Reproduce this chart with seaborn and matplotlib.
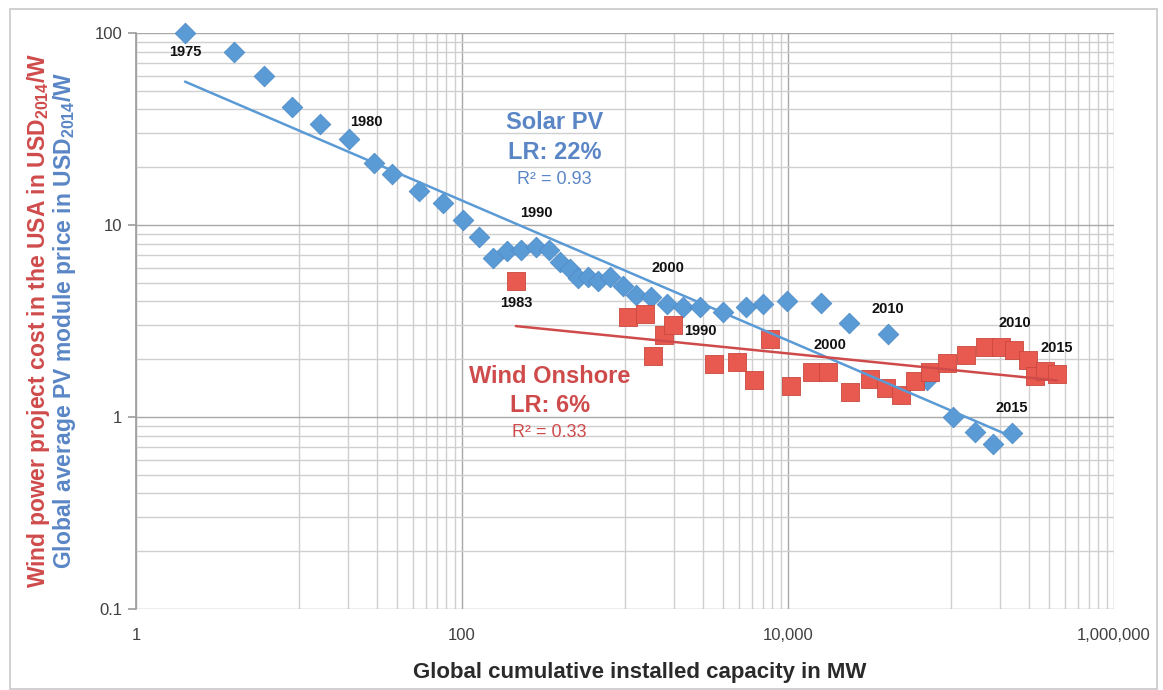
import numpy as np
import pandas as pd
import matplotlib
matplotlib.use('Agg')
import matplotlib.pyplot as plt
import matplotlib.ticker as mticker
from matplotlib.patches import Rectangle
import seaborn as sns

# solar PV: cumulative capacity (MW) and module price (USD2014/W), 1975-2015
solar_mw = [2.0, 3.99, 6.1, 9.06, 13.4, 20.3, 28.8, 37.2, 54.5, 76.4,
            101, 127, 155, 189, 230, 284, 342, 399, 460, 515,
            593, 683, 809, 972, 1167, 1444, 1811, 2270, 2884, 3994,
            5525, 7030, 9860, 15930, 23670, 41050, 71260, 102800, 140300, 181100,
            236700]
solar_price = [100, 79.6, 59.7, 41.2, 33.5, 28.1, 21.0, 18.4, 15.0, 13.0,
               10.6, 8.66, 6.73, 7.32, 7.41, 7.68, 7.41, 6.43, 5.90, 5.30,
               5.36, 5.11, 5.36, 4.81, 4.32, 4.22, 3.88, 3.74, 3.74, 3.52,
               3.74, 3.88, 4.02, 3.92, 3.09, 2.71, 1.56, 1.0, 0.836, 0.723,
               0.826]
solar_years = list(range(1975, 2016))

# onshore wind: cumulative capacity (MW) and US project cost (USD2014/W)
wind_mw = [214, 1043, 1327, 1486, 1735, 1969, 3516, 4866, 6185, 7762,
           10430, 14030, 17590, 23990, 31850, 39910, 49340, 60150, 74300, 94460,
           123600, 161700, 202700, 243700, 296600, 327500, 377600, 446900]
wind_cost = [5.11, 3.31, 3.44, 2.08, 2.67, 3.02, 1.89, 1.93, 1.56, 2.55,
             1.45, 1.72, 1.72, 1.35, 1.58, 1.42, 1.30, 1.54, 1.72, 1.91,
             2.10, 2.31, 2.31, 2.23, 1.98, 1.64, 1.74, 1.67]

# which points get a year label
solar_labels = {0: '1975', 5: '1980', 15: '1990', 25: '2000', 35: '2010', 40: '2015'}
wind_labels = {0: '1983', 5: '1990', 12: '2000', 22: '2010', 27: '2015'}

x_ticks = [1, 100, 10000, 1000000]
x_ticklabels = ['1', '100', '10,000', '1,000,000']
y_ticks = [0.1, 1, 10, 100]
y_ticklabels = ['0.1', '1', '10', '100']

blue = '#5b9bd5'
blue_txt = '#5a86c6'
red = '#e85a4f'
red_txt = '#cf4b4b'

sns.set_theme(style='white')
plt.rcParams['font.family'] = ['Liberation Sans', 'DejaVu Sans']
plt.rcParams['mathtext.default'] = 'regular'

solar = pd.DataFrame({'mw': solar_mw, 'price': solar_price, 'year': solar_years})
wind = pd.DataFrame({'mw': wind_mw, 'price': wind_cost})

fig = plt.figure(figsize=(11.63, 6.90), dpi=100)
ax = fig.add_axes([0.1169, 0.1174, 0.9579 - 0.1169, 0.9522 - 0.1174])
ax.set_xscale('log')
ax.set_yscale('log')
ax.set_xlim(1, 1e6)
ax.set_ylim(0.1, 100)

# grid like the Excel original: x minor lines only in odd decades
x_minor = [k * 10 ** e for e in (1, 3, 5) for k in range(1, 10)]
y_minor = [k * 10 ** e for e in (-1, 0, 1) for k in range(2, 10)]
ax.xaxis.set_major_locator(mticker.FixedLocator(x_ticks))
ax.xaxis.set_major_formatter(mticker.FixedFormatter(x_ticklabels))
ax.xaxis.set_minor_locator(mticker.FixedLocator(x_minor))
ax.xaxis.set_minor_formatter(mticker.NullFormatter())
ax.yaxis.set_major_locator(mticker.FixedLocator(y_ticks))
ax.yaxis.set_major_formatter(mticker.FixedFormatter(y_ticklabels))
ax.yaxis.set_minor_locator(mticker.FixedLocator(y_minor))
ax.yaxis.set_minor_formatter(mticker.NullFormatter())
ax.grid(which='major', color='#a8a8a8', linewidth=1.0)
ax.grid(which='minor', color='#cfcfcf', linewidth=1.0)
ax.set_axisbelow(True)
for s in ['top', 'right', 'bottom']:
    ax.spines[s].set_visible(False)
ax.spines['left'].set_color('#a0a0a0')
ax.tick_params(axis='y', which='major', length=6, color='#a0a0a0', left=True,
               labelsize=12, labelcolor='#404040', pad=4)
ax.tick_params(axis='x', which='major', length=0, labelsize=12,
               labelcolor='#404040', pad=14)
ax.tick_params(which='minor', length=0)

sns.scatterplot(data=solar, x='mw', y='price', marker='D', s=110, color=blue,
                edgecolor='#4f8cc9', linewidth=0.6, ax=ax, zorder=3, clip_on=False)
sns.scatterplot(data=wind, x='mw', y='price', marker='s', s=180, color=red,
                edgecolor='#c9483f', linewidth=0.6, ax=ax, zorder=4, clip_on=False)
ax.set_xlabel('')
ax.set_ylabel('')

# power-law trend lines fitted in log space
for df, col in [(solar, blue), (wind, red_txt)]:
    b, a = np.polyfit(np.log10(df['mw']), np.log10(df['price']), 1)
    xs = np.array([df['mw'].min(), df['mw'].max()])
    ax.plot(xs, 10 ** (a + b * np.log10(xs)), color=col, linewidth=1.8, zorder=5)

offs_solar = {0: (0, -19), 5: (17, 17), 15: (0, 34), 25: (17, 29), 35: (0, 25), 40: (0, 25)}
offs_wind = {0: (0, -22), 5: (27, -6), 12: (2, 27), 22: (14, 24), 27: (0, 26)}
for labels, df, offs in [(solar_labels, solar, offs_solar), (wind_labels, wind, offs_wind)]:
    for i, t in labels.items():
        ax.annotate(t, (df['mw'][i], df['price'][i]), xytext=offs[i],
                    textcoords='offset pixels', ha='center', va='center',
                    fontsize=10.5, fontweight='bold', color='#111111', zorder=6)

ax.text(0.428, 0.845, 'Solar PV', transform=ax.transAxes, ha='center', va='center',
        fontsize=17, fontweight='bold', color=blue_txt)
ax.text(0.428, 0.792, 'LR: 22%', transform=ax.transAxes, ha='center', va='center',
        fontsize=17, fontweight='bold', color=blue_txt)
ax.text(0.428, 0.745, 'R² = 0.93', transform=ax.transAxes, ha='center', va='center',
        fontsize=13, color=blue_txt)
ax.text(0.423, 0.403, 'Wind Onshore', transform=ax.transAxes, ha='center', va='center',
        fontsize=17, fontweight='bold', color=red_txt)
ax.text(0.423, 0.354, 'LR: 6%', transform=ax.transAxes, ha='center', va='center',
        fontsize=17, fontweight='bold', color=red_txt)
ax.text(0.423, 0.307, 'R² = 0.33', transform=ax.transAxes, ha='center', va='center',
        fontsize=13, color=red_txt)

fig.text(0.550, 0.026, 'Global cumulative installed capacity in MW', ha='center',
         va='center', fontsize=16, fontweight='bold', color='#2a2a2a')
fig.text(39 / 1163, 0.536, 'Wind power project cost in the USA in USD$_{2014}$/W',
         rotation=90, ha='center', va='center', fontsize=16.5, fontweight='bold',
         color=red_txt)
fig.text(65 / 1163, 0.536, 'Global average PV module price in USD$_{2014}$/W',
         rotation=90, ha='center', va='center', fontsize=16.5, fontweight='bold',
         color=blue_txt)

# light outer frame of the original chart area
fig.patches.append(Rectangle((10 / 1163, 0.002), 1147 / 1163, 1 - 9 / 690 - 0.002,
                             transform=fig.transFigure, fill=False,
                             edgecolor='#c8c8c8', linewidth=1.2))

fig.savefig('out.png', dpi=100)
